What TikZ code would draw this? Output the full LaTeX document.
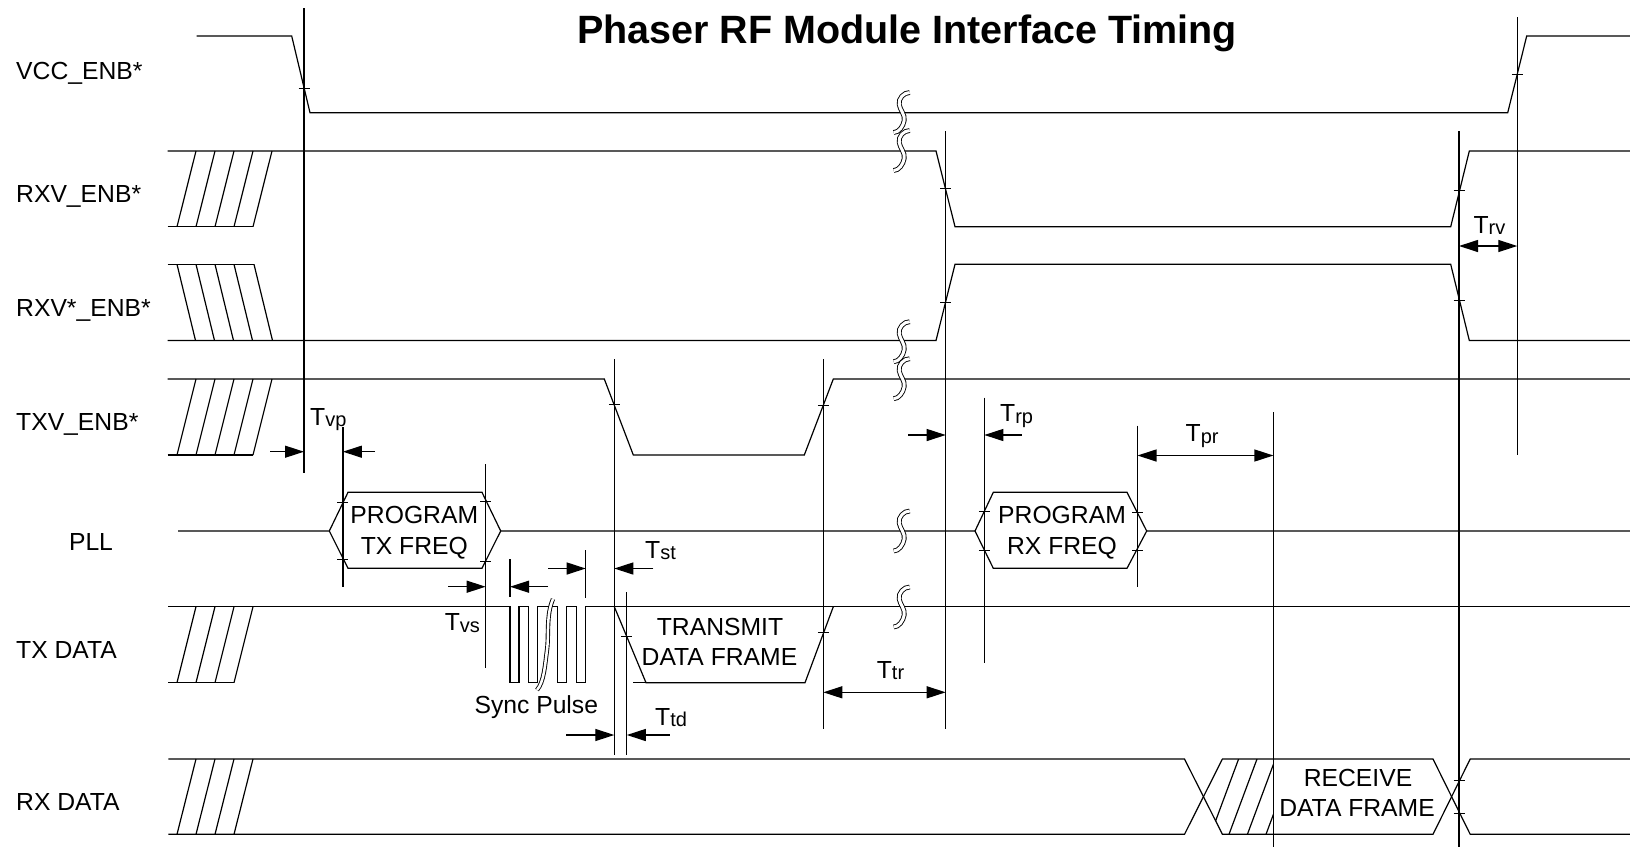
\documentclass[tikz,border=0pt]{standalone}
\usepackage{fontspec}
\setmainfont{Liberation Sans}
\usetikzlibrary{arrows.meta}
\tikzset{
  sig/.style={line width=1.2pt},
  vline/.style={line width=1.2pt},
  tickmark/.style={line width=1pt},
  dimr/.style={line width=1.2pt,-{Triangle[length=19pt,width=12pt]}},
  dimb/.style={line width=1.2pt,{Triangle[length=19pt,width=12pt]}-{Triangle[length=19pt,width=12pt]}},
  brkmark/.style={line width=0.9pt,double=white,double distance=3pt},
  lbl/.style={font=\fontsize{24.7}{24.7}\selectfont,anchor=base west,inner sep=0pt},
  ctext/.style={font=\fontsize{24.7}{24.7}\selectfont,anchor=base,inner sep=0pt},
}
\newcommand\Tsub[1]{T\raisebox{-1.5pt}{\fontsize{20}{20}\selectfont #1}}
\newcommand\mytick[2]{\draw[tickmark] (#1-5.5,#2) -- (#1+5.5,#2);}
\newcommand\mybreak[2]{\begin{scope}[shift={(#1,#2)}]
  \draw[brkmark] (8,-20) .. controls (2,-20) and (-3.5,-14) .. (-2.5,-8) .. controls (-1.5,-2) and (3.5,2) .. (2.5,8) .. controls (1.5,14) and (-3,20) .. (-8,20);
  \end{scope}}
\begin{document}
\begin{tikzpicture}[x=1pt,y=-1pt]
\useasboundingbox (0,0) rectangle (1630,847);

% title and signal names
\node[font=\bfseries\fontsize{39.5}{39.5}\selectfont,anchor=base,inner sep=0pt] (title) at (907,43.5) {Phaser RF Module Interface Timing};
\node[lbl] (lvcc) at (16,79) {VCC\_ENB*};
\node[lbl] (lrxv) at (16,202.3) {RXV\_ENB*};
\node[lbl] (lrxvn) at (16,316.7) {RXV*\_ENB*};
\node[lbl] (ltxv) at (16,430) {TXV\_ENB*};
\node[ctext] (lpll) at (91,550) {PLL};
\node[lbl] (ltxd) at (16,658) {TX DATA};
\node[lbl] (lrxd) at (16,810) {RX DATA};

% VCC_ENB*
\draw[sig] (196.7,36) -- (291.7,36) -- (310,112.7) -- (1507.7,112.7) -- (1526.7,36) -- (1630,36);
% RXV_ENB*
\draw[sig] (167.7,151) -- (936,151) -- (955,226.7) -- (1450.7,226.7) -- (1469.3,151) -- (1630,151);
\draw[sig] (167.7,226.7) -- (253,226.7);
\foreach \t in {196,215,234,253,272} \draw[sig] (\t,151) -- (\t-19,226.7);
% RXV*_ENB*
\draw[sig] (167.7,264.3) -- (254,264.3);
\draw[sig] (167.7,340.5) -- (936,340.5) -- (955,264.3) -- (1450.7,264.3) -- (1469.3,340.5) -- (1630,340.5);
\foreach \t in {177,196,215,234,254} \draw[sig] (\t,264.3) -- (\t+18.5,340.5);
% TXV_ENB*
\draw[sig] (167.7,379) -- (604.3,379) -- (633.3,455) -- (804.3,455) -- (833.3,379) -- (1630,379);
\draw[sig] (167.7,455) -- (253,455);
\foreach \t in {196,215,234,253,272} \draw[sig] (\t,379) -- (\t-19,455);
% PLL
\draw[sig] (178,531) -- (329.3,531) -- (348,492.3) -- (482,492.3) -- (500.7,531) -- (975,531) -- (993.3,492.3) -- (1127,492.3) -- (1146.7,531) -- (1630,531);
\draw[sig] (329.3,531) -- (348,568.3) -- (482,568.3) -- (500.7,531);
\draw[sig] (975,531) -- (993.3,568.3) -- (1127,568.3) -- (1146.7,531);
% TX DATA
\draw[sig] (168.3,606.7) -- (510,606.7) -- (510,682.7) -- (519,682.7) -- (519,606.7) -- (528.3,606.7) -- (528.3,682.7) -- (537.3,682.7) -- (537.3,606.7)
  -- (557.3,606.7) -- (557.3,682.7) -- (566.7,682.7) -- (566.7,606.7) -- (576.7,606.7) -- (576.7,682.7) -- (585.7,682.7) -- (585.7,606.7) -- (1630,606.7);
\draw[sig] (614.3,606.7) -- (646,682.7) -- (805,682.7) -- (833.3,606.7);
\draw[sig] (633.3,682.7) -- (646,682.7);
\draw[sig] (168.3,682.7) -- (234,682.7);
\foreach \t in {196,215,234,253} \draw[sig] (\t,606.7) -- (\t-19,682.7);
% RX DATA
\draw[sig] (168.3,759) -- (1184.5,759) -- (1222.4,834.3) -- (1433,834.3) -- (1470.2,759) -- (1630,759);
\draw[sig] (168.3,834.3) -- (1184.5,834.3) -- (1222.4,759) -- (1433,759) -- (1470.2,834.3) -- (1630,834.3);
\foreach \t in {196,215,234,253} \draw[sig] (\t,759) -- (\t-19,834.3);
\begin{scope}
  \clip (1203.5,796.7) -- (1222.4,759) -- (1273.4,759) -- (1273.4,834.3) -- (1222.4,834.3) -- cycle;
  \foreach \t in {1238.6,1257,1275.4,1294} \draw[sig] (\t,759) -- (\t-28,834.3);
\end{scope}

% vertical reference lines
\draw[vline] (304,8) -- (304,473);
\draw[vline] (342.9,427) -- (342.9,586.7);
\draw[vline] (485.7,464) -- (485.7,668.3);
\draw[vline] (510,559) -- (510,597.3);
\draw[vline] (585.7,550) -- (585.7,597.7);
\draw[vline] (614.3,359.3) -- (614.3,755);
\draw[vline] (626.8,592) -- (626.8,755);
\draw[vline] (823.3,359.3) -- (823.3,729.3);
\draw[vline] (945.7,131) -- (945.7,729);
\draw[vline] (984.3,397.7) -- (984.3,663.3);
\draw[vline] (1137.5,425.7) -- (1137.5,587.3);
\draw[vline] (1273.4,412.3) -- (1273.4,847);
\draw[vline] (1459,131) -- (1459,847);
\draw[vline] (1517.3,17.3) -- (1517.3,455);

% crossing ticks
\mytick{304}{88}
\mytick{1517.3}{74.5}
\mytick{945.7}{188}
\mytick{1459}{190}
\mytick{945.7}{302.5}
\mytick{1459}{300}
\mytick{614.3}{404}
\mytick{823.3}{405}
\mytick{342.9}{502.5}
\mytick{342.9}{559.5}
\mytick{485.7}{501}
\mytick{485.7}{561}
\mytick{984.3}{511.3}
\mytick{984.3}{550.7}
\mytick{1137.5}{512}
\mytick{1137.5}{550}
\mytick{626.8}{636.7}
\mytick{823.3}{632}
\mytick{1459}{780}
\mytick{1459}{813}

% break marks
\mybreak{901.7}{112.5}
\mybreak{901.7}{150.5}
\mybreak{901.7}{341.7}
\mybreak{901.7}{378.7}
\mybreak{901.7}{531}
\mybreak{901.7}{607}
\draw[brkmark,double distance=2.5pt] (553,599) .. controls (546,615) and (549,635) .. (547,650) .. controls (545,665) and (544,682) .. (537,690);

% dimension arrows
\draw[dimr] (270,451.7) -- (304,451.7);
\draw[dimr] (375,451.7) -- (342.9,451.7);
\draw[dimr] (448,586.7) -- (485.7,586.7);
\draw[dimr] (548,586.7) -- (510,586.7);
\draw[dimr] (548,568.5) -- (585.7,568.5);
\draw[dimr] (653.3,568.5) -- (614.3,568.5);
\draw[dimr] (566,735) -- (614.3,735);
\draw[dimr] (669.6,735) -- (626.8,735);
\draw[dimr] (908.3,435) -- (945.7,435);
\draw[dimr] (1021.7,435) -- (984.3,435);
\draw[dimb] (1137.5,455.5) -- (1273.4,455.5);
\draw[dimb] (823.3,692.3) -- (945.7,692.3);
\draw[dimb] (1459,246) -- (1517.3,246);

% timing labels
\node[lbl] (tvp) at (310,425) {\Tsub{vp}};
\node[lbl] (tvs) at (444.6,630.7) {\Tsub{vs}};
\node[lbl] (tst) at (645,558.3) {\Tsub{st}};
\node[lbl] (ttd) at (655,725) {\Tsub{td}};
\node[lbl] (ttr) at (876.7,678.3) {\Tsub{tr}};
\node[lbl] (trp) at (1000,421.7) {\Tsub{rp}};
\node[lbl] (tpr) at (1185.5,441.7) {\Tsub{pr}};
\node[lbl] (trv) at (1473.3,233.3) {\Tsub{rv}};

% frame texts
\node[ctext] (ptx1) at (414.3,523.3) {PROGRAM};
\node[ctext] (ptx2) at (414.3,554.3) {TX FREQ};
\node[ctext] (prx1) at (1062,523.3) {PROGRAM};
\node[ctext] (prx2) at (1062,554.3) {RX FREQ};
\node[ctext] (tdf1) at (720,635) {TRANSMIT};
\node[ctext] (tdf2) at (719.5,665) {DATA FRAME};
\node[ctext] (rdf1) at (1358,786) {RECEIVE};
\node[ctext] (rdf2) at (1357,816.7) {DATA FRAME};
\node[ctext] (sync) at (536.3,713) {Sync Pulse};
\end{tikzpicture}
\end{document}
